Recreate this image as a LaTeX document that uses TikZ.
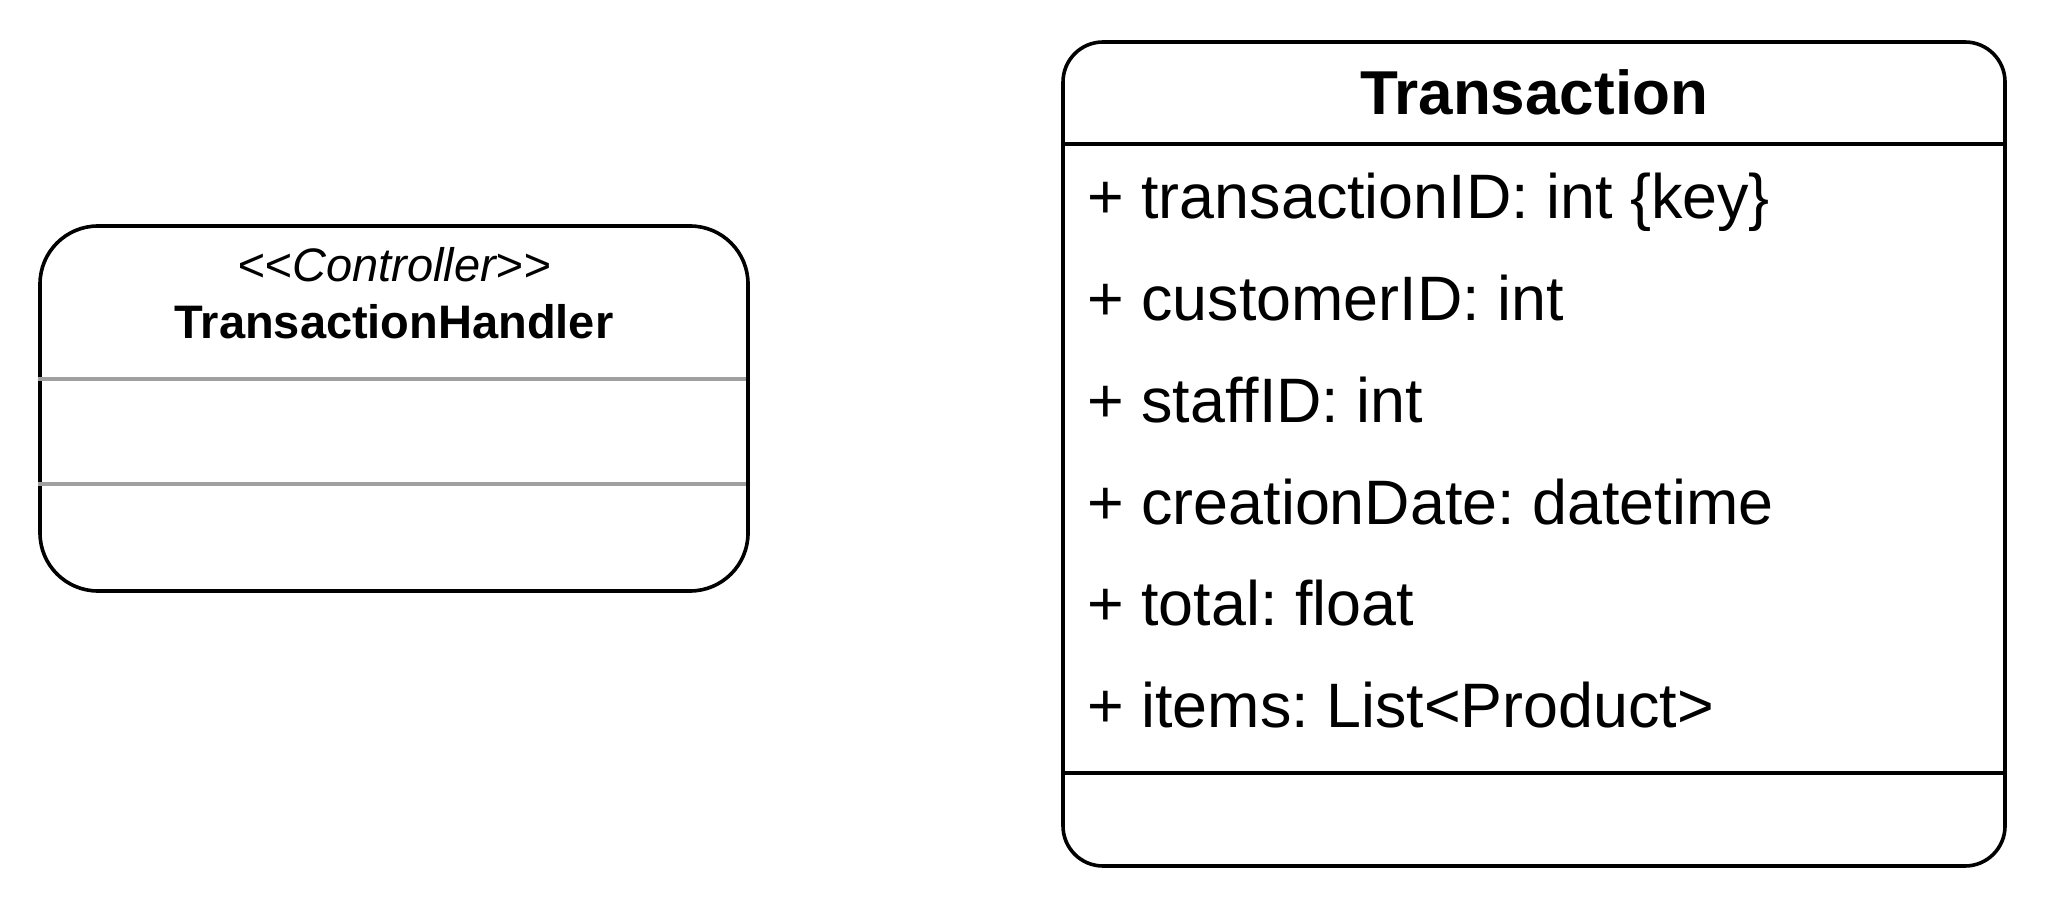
\documentclass[tikz,border=0pt]{standalone}
\usepackage{fontspec}
\setmainfont{Liberation Sans}
\usetikzlibrary{positioning}
\definecolor{sepgray}{RGB}{160,160,160}
\frenchspacing
\tikzset{
	classbox/.style={draw, line width=1.8pt, inner sep=0pt},
	attr/.style={anchor=base west, inner sep=0pt, font=\fontsize{31.4}{37}\selectfont},
	sepline/.style={line width=1.7pt},
}
\begin{document}
\begin{tikzpicture}[x=0.5pt, y=-0.5pt]
		\useasboundingbox (0,0) rectangle (2048,908);
		
		% Controller box
		\node[classbox, rounded corners=29pt, minimum width=354pt, minimum height=182.5pt] (handler) at (394,408.5) {};
		\node[anchor=base, inner sep=0pt, font=\fontsize{23.5}{28}\selectfont\itshape] (stereo) at (394,282) {<{}<Controller>{}>};
		\node[anchor=base, inner sep=0pt, font=\fontsize{23.5}{28}\selectfont\bfseries] (hname) at (394,339) {TransactionHandler};
		\coordinate (hsep1) at (0,379);
		\coordinate (hsep2) at (0,484);
		\foreach \s in {hsep1,hsep2}
		\draw[sepline, sepgray] (handler.west |- \s) -- ([xshift=-2pt]handler.east |- \s);
		
		% Entity box
		\node[classbox, rounded corners=20pt, minimum width=471pt, minimum height=412pt] (trans) at (1534,454) {};
		\node[anchor=base, inner sep=0pt, font=\fontsize{31}{37}\selectfont\bfseries] (tname) at (1534,115) {Transaction};
		\coordinate (tsep1) at (0,144);
		\coordinate (tsep2) at (0,773);
		\foreach \s in {tsep1,tsep2}
		\draw[sepline] (trans.west |- \s) -- (trans.east |- \s);
		
		% Attributes
		\foreach \txt [count=\i] in {{+ transactionID: int \{key\}}, {+ customerID: int}, {+ staffID: int}, {+ creationDate: datetime}, {+ total: float}, {+ items: List<Product>}}
		\node[attr] (attr\i) at (1087,{218.7+101.8*(\i-1)}) {\txt};
\end{tikzpicture}
\end{document}
